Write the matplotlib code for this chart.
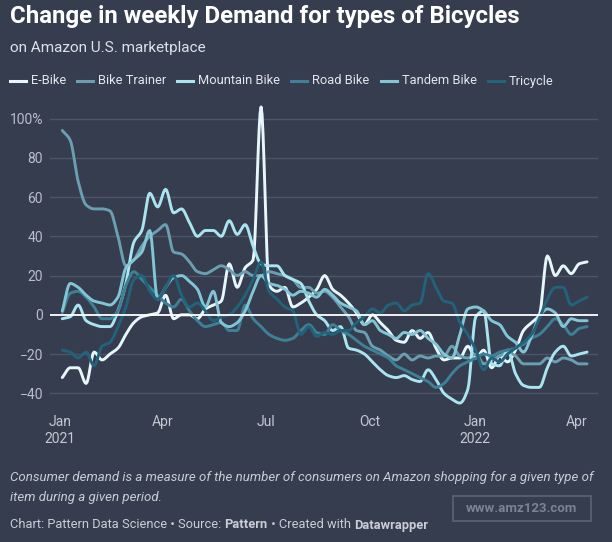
import numpy as np
import pandas as pd
import matplotlib
matplotlib.use("Agg")
import matplotlib.pyplot as plt
import matplotlib.dates as mdates

plt.rcParams['font.family'] = ['Roboto', 'DejaVu Sans']

# weekly data, % change in demand
weeks = pd.date_range("2021-01-03", periods=67, freq="7D")

e_bike = [-32, -27, -27, -35, -19, -23, -20, -17, -10, -4, -1, 0, 1, 10, -2, 0, 0, -2, 3, 5,
          7, 26, 14, 24, 28, 106, 15, 12, 14, 4, 6, 9, 13, 20, 13, 10, 6, 1, -5, 0,
          -4, -8, -13, -14, -8, -12, -9, -17, -23, -22, -22, -16, -22, -18, -27, -21, -24, -18, -8, -4,
          0, 30, 20, 25, 21, 26, 27]
bike_trainer = [94, 89, 68, 56, 54, 54, 53, 40, 25, 28, 35, 40, 43, 46, 32, 31, 27, 22, 21, 23,
                25, 23, 20, 22, 20, 20, 22, 21, 20, 18, 14, 14, 11, 12, 9, 4, -1, -8, -9, -16,
                -18, -21, -23, -20, -23, -21, -22, -21, -21, -16, -21, -22, -20, -25, -23, -21, -19, -21, -25, -25,
                -25, -22, -24, -22, -23, -25, -25]
mountain_bike = [-2, -1, 5, -3, -5, -6, -6, 2, 16, 37, 43, 62, 55, 64, 52, 54, 47, 40, 43, 43,
                 40, 48, 41, 46, 35, 26, 25, 25, 20, 18, 16, 7, 0, -3, -8, -6, -17, -18, -20, -24,
                 -28, -31, -32, -31, -33, -34, -28, -33, -40, -43, -45, -38, -1, 2, -25, -26, -18, -30, -36, -37,
                 -37, -27, -19, -16, -21, -20, -19]
road_bike = [1, 11, 12, 9, 4, -2, -2, 2, 15, 22, 18, 14, 10, 6, 4, 8, 2, -3, -6, -5,
             -4, -8, -8, 5, -2, -6, -10, -12, -13, -12, -8, -5, -9, -10, -5, -8, -10, -13, -16, -18,
             -20, -22, -26, -28, -30, -32, -34, -37, -35, -30, -26, -24, -22, -20, -21, -19, -18, -17, -15, -12,
             -10, -6, -2, -5, -10, -7, -6]
tandem_bike = [2, 16, 14, 10, 7, 6, 5, 9, 24, 28, 32, 43, 8, 14, 19, 20, 17, 13, 4, 12,
               -4, -6, -4, 2, 12, 20, 16, 15, 13, 10, 12, 11, 9, 13, 10, 6, 4, 2, -5, -3,
               -8, -10, -12, -9, -10, -8, -12, -15, -20, -22, -10, 3, 4, 2, -3, -5, -11, -14, -19, -11,
               -1, 3, 1, -6, -2, -3, -3]
tricycle = [-18, -19, -22, -19, -26, -16, -14, -6, 4, 18, 20, 12, 8, 14, 20, 10, 4, 6, 2, -3,
            -1, 0, 4, 10, 18, 27, 12, 8, 4, 2, -10, -6, -11, -9, -10, -8, -8, -4, -1, 3,
            1, 5, 6, 2, 5, 6, 21, 14, 7, 6, -4, -10, -18, -28, -22, -24, -20, -17, -14, -10,
            -2, 8, 14, 14, 5, 7, 9]

names = ["E-Bike", "Bike Trainer", "Mountain Bike", "Road Bike", "Tandem Bike", "Tricycle"]
series = [e_bike, bike_trainer, mountain_bike, road_bike, tandem_bike, tricycle]
colors = ["#e6f7fb", "#6a9fb2", "#a9e4f0", "#3e8196", "#82c6d6", "#22627a"]
yticks = [-40, -20, 0, 20, 40, 60, 80, 100]
ytick_labels = ["\u221240", "\u221220", "0", "20", "40", "60", "80", "100%"]
xticks = pd.to_datetime(["2021-01-01", "2021-04-01", "2021-07-01", "2021-10-01", "2022-01-01", "2022-04-01"])
xtick_labels = ["Jan\n2021", "Apr", "Jul", "Oct", "Jan\n2022", "Apr"]


def monotone_curve(x, y, n=8):
    # monotone cubic (Fritsch-Carlson) path through the points, only for drawing
    x = np.asarray(x, float)
    y = np.asarray(y, float)
    h = np.diff(x)
    d = np.diff(y) / h
    m = np.zeros_like(y)
    m[0], m[-1] = d[0], d[-1]
    for i in range(1, len(y) - 1):
        if d[i - 1] * d[i] <= 0:
            m[i] = 0
        else:
            w1 = 2 * h[i] + h[i - 1]
            w2 = h[i] + 2 * h[i - 1]
            m[i] = (w1 + w2) / (w1 / d[i - 1] + w2 / d[i])
    xs, ys = [], []
    for i in range(len(x) - 1):
        t = np.linspace(0, 1, n, endpoint=False)
        h00 = 2 * t**3 - 3 * t**2 + 1
        h10 = t**3 - 2 * t**2 + t
        h01 = -2 * t**3 + 3 * t**2
        h11 = t**3 - t**2
        xs.append(x[i] + t * h[i])
        ys.append(h00 * y[i] + h10 * h[i] * m[i] + h01 * y[i + 1] + h11 * h[i] * m[i + 1])
    xs.append([x[-1]])
    ys.append([y[-1]])
    return np.concatenate(xs), np.concatenate(ys)


bg = "#363d4f"
W, H = 612, 542
fig = plt.figure(figsize=(W / 100, H / 100), dpi=100, facecolor=bg)

# axes box in pixels: left 50, right 598, top 103, bottom 407
ax = fig.add_axes([50 / W, 1 - 407 / H, 548 / W, 304 / H], facecolor=bg)

xnum = mdates.date2num(weeks)
order = [5, 3, 1, 4, 2, 0]
for k in order:
    xs, ys = monotone_curve(xnum, series[k])
    ax.plot(xs, ys, color=colors[k], lw=2.1, solid_joinstyle='round',
            solid_capstyle='round', zorder=3 + k * 0.1)
ax.xaxis_date()

x0 = pd.Timestamp("2021-01-01")
ax.set_xlim(x0 - pd.Timedelta(days=8.8), x0 + pd.Timedelta(days=473.6))
ax.set_ylim(-47, 108)

for t in yticks:
    if t == 0:
        continue
    ax.axhline(t, color="#4d5567", lw=1, zorder=1)
ax.axhline(0, color="white", lw=1.3, zorder=4)

ax.set_yticks(yticks)
ax.set_yticklabels(ytick_labels)
ax.set_xticks(xticks)
ax.set_xticklabels(xtick_labels)
ax.tick_params(axis='y', length=0, pad=5, labelsize=10, labelcolor="#b9bec9")
ax.tick_params(axis='x', length=0, pad=6, labelsize=10, labelcolor="#c4c8d1")
for lab in ax.get_xticklabels():
    lab.set_linespacing(1.2)
for s in ax.spines.values():
    s.set_visible(False)

# title and subtitle
fig.text(10 / W, 1 - 17 / H, "Change in weekly Demand for types of Bicycles", color="white",
         fontsize=17.3, fontweight="bold", va="center", ha="left")
fig.text(10 / W, 1 - 48 / H, "on Amazon U.S. marketplace", color="#dde1e8",
         fontsize=11, va="center", ha="left")

# legend drawn as text + short line segments
leg_x = [10, 77, 177, 291, 381, 488]
for i, (nm, c) in enumerate(zip(names, colors)):
    x = leg_x[i]
    fig.add_artist(plt.Line2D([x / W, (x + 16) / W], [1 - 81 / H] * 2, color=c, lw=2.2))
    fig.text((x + 21) / W, 1 - 81 / H, nm, color="#e3e6ec", fontsize=9.3, va="center", ha="left")

# notes
note_kw = dict(color="#c9cdd5", fontsize=9.5, style="italic", va="center", ha="left")
fig.text(10 / W, 1 - 478 / H, "Consumer demand is a measure of the number of consumers on Amazon shopping for a given type of", **note_kw)
fig.text(10 / W, 1 - 497 / H, "item during a given period.", **note_kw)

fs = 9.3
t1 = fig.text(10 / W, 1 - 525 / H, "Chart: Pattern Data Science \u2022 Source: ", color="#c9cdd5",
              fontsize=fs, va="center", ha="left")
fig.canvas.draw()
r = fig.canvas.get_renderer()
bb = t1.get_window_extent(r)
t2 = fig.text(bb.x1 / W, 1 - 525 / H, "Pattern", color="#c9cdd5", fontsize=fs,
              fontweight="bold", va="center", ha="left")
bb = t2.get_window_extent(r)
t3 = fig.text(bb.x1 / W, 1 - 525 / H, " \u2022 Created with ", color="#c9cdd5",
              fontsize=fs, va="center", ha="left")
bb = t3.get_window_extent(r)
fig.text(bb.x1 / W, 1 - 525 / H, "Datawrapper", color="#c9cdd5", fontsize=fs,
         fontweight="bold", va="center", ha="left")

# watermark box
fig.add_artist(plt.Rectangle((453 / W, 1 - 521 / H), 138 / W, 25 / H, fill=False,
                             edgecolor="#5c6374", lw=1.2))
fig.text(522 / W, 1 - 509 / H, "www.amz123.com", color="#7b8291", fontsize=9.5,
         fontweight="bold", va="center", ha="center")

fig.savefig("out.png", dpi=100, facecolor=bg)
